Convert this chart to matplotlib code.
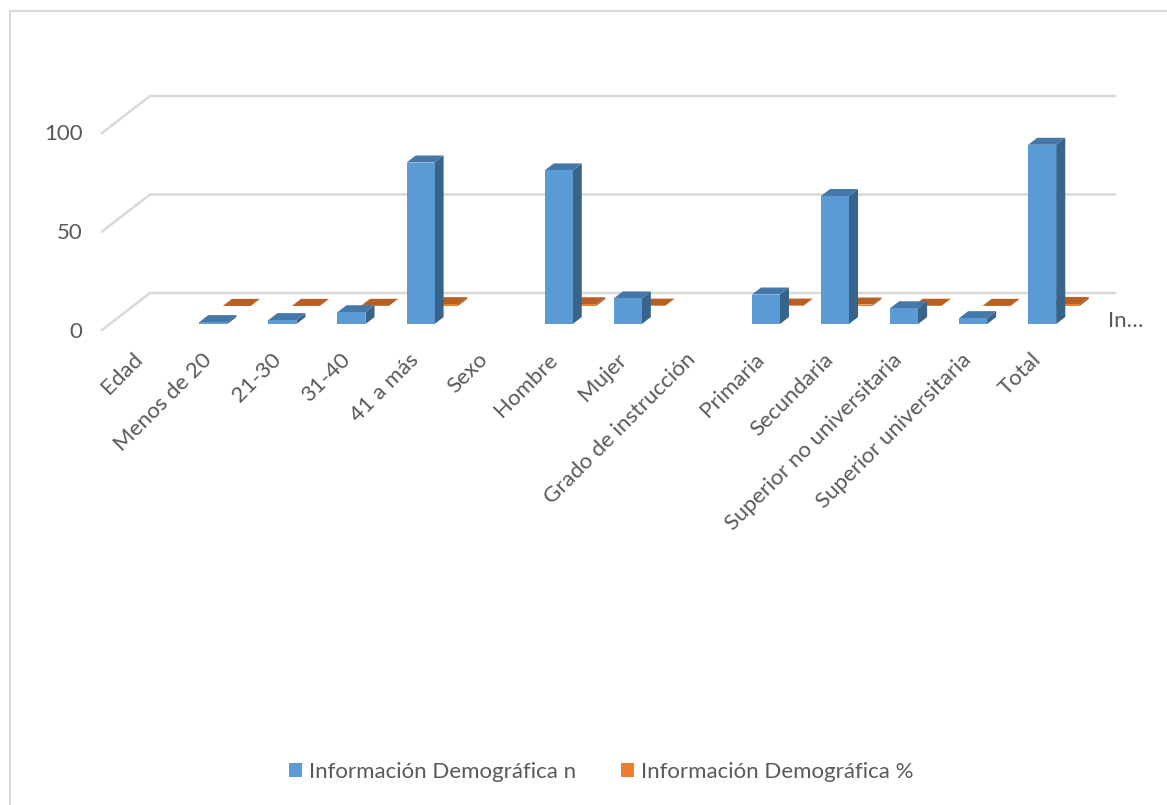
import matplotlib
matplotlib.use("Agg")
import matplotlib.pyplot as plt
from matplotlib.patches import Polygon, Rectangle
from matplotlib.transforms import ScaledTranslation

plt.rcParams['font.family'] = ['Lato', 'DejaVu Sans']

categories = ["Edad", "Menos de 20", "21-30", "31-40", "41 a más", "Sexo", "Hombre",
              "Mujer", "Grado de instrucción", "Primaria", "Secundaria",
              "Superior no universitaria", "Superior universitaria", "Total"]
counts = [None, 1, 2, 6, 82, None, 78, 13, None, 15, 65, 8, 3, 91]
shares = [None, 0.011, 0.022, 0.066, 0.901, None, 0.857, 0.143, None,
          0.165, 0.714, 0.088, 0.033, 1.0]
series_names = ["Información Demográfica n", "Información Demográfica %"]
y_ticks = [0, 50, 100]

W, H = 1167, 805
TEXT = "#595959"
GRID = "#D9D9D9"
FONT = 16

fig = plt.figure(figsize=(W / 100, H / 100), dpi=100, facecolor="white")

# Axes box is the front plane of the oblique 3-D frame
left, right, top, bottom = 102, 1069, 133, 330
ax = fig.add_axes([left / W, 1 - bottom / H, (right - left) / W, (bottom - top) / H])
ax.set_xlim(-0.5, len(categories) - 0.5)
ax.set_ylim(0, 100)
ax.patch.set_alpha(0)
for s in ax.spines.values():
    s.set_visible(False)

# Size of the full depth of the floor, in data units
px_x = (right - left) / len(categories)
px_y = (bottom - top) / 100
DX = 48 / px_x
DY = 37 / px_y
BAR_W = 28 / px_x


def shift(x, y, d):
    return x + d * DX, y + d * DY


# Gridlines run along the side wall and then the back wall
for v in y_ticks:
    x0, x1 = -0.5, len(categories) - 0.5 - 2 / px_x
    xb, yb = shift(x0, v, 1)
    xe, _ = shift(x1, v, 1)
    ax.plot([x0, xb, xe], [v, yb, yb], color=GRID, lw=1.8, clip_on=False,
            solid_joinstyle="miter", zorder=1)


def draw_series(values, d_front, d_back, front, roof, side, base_z):
    """Draw one row of oblique bars between two depths on the floor."""
    for i, v in enumerate(values):
        if v is None:
            continue
        xl = i - BAR_W / 2
        xr = i + BAR_W / 2
        fx, fy = shift(xl, 0, d_front)
        fxr, _ = shift(xr, 0, d_front)
        bx, by = shift(xl, 0, d_back)
        bxr, _ = shift(xr, 0, d_back)
        z = base_z + i * 0.01
        ax.bar(fx, v, width=fxr - fx, bottom=fy, align="edge", color=front,
               linewidth=0, clip_on=False, zorder=z + 0.002)
        ax.add_patch(Polygon([(fx, fy + v), (fxr, fy + v), (bxr, by + v), (bx, by + v)],
                             closed=True, facecolor=roof, linewidth=0,
                             clip_on=False, zorder=z + 0.001))
        ax.add_patch(Polygon([(fxr, fy), (bxr, by), (bxr, by + v), (fxr, fy + v)],
                             closed=True, facecolor=side, linewidth=0,
                             clip_on=False, zorder=z))


# The percentage row stands behind the count row
draw_series(shares, 0.65, 0.84, "#ED7D31", "#B86023", "#A85620", 2)
draw_series(counts, 0.16, 0.35, "#5B9BD5", "#4478A8", "#38648C", 3)

ax.set_yticks(y_ticks)
ax.set_yticklabels([str(v) for v in y_ticks], fontsize=FONT, color=TEXT)
ax.tick_params(axis="y", length=0, pad=14)
y_nudge = ScaledTranslation(0, -1.5 / 100, fig.dpi_scale_trans)
for lab in ax.get_yticklabels():
    lab.set_verticalalignment("center")
    lab.set_transform(lab.get_transform() + y_nudge)

ax.set_xticks(range(len(categories)))
ax.set_xticklabels(categories, rotation=45, ha="right", rotation_mode="anchor",
                   fontsize=FONT, color=TEXT)
ax.tick_params(axis="x", length=0, pad=14)
x_nudge = ScaledTranslation(-4 / 100, 0, fig.dpi_scale_trans)
for lab in ax.get_xticklabels():
    lab.set_transform(lab.get_transform() + x_nudge)

# Depth-axis label cut short by the chart area
ax.annotate("In…", xy=(1, 0), xycoords="axes fraction", xytext=(1108 - right, -1),
            textcoords="offset pixels", fontsize=FONT, color=TEXT, va="bottom", ha="left")

# Outer chart frame; its right and bottom sides fall beyond the canvas
fig.add_artist(Rectangle((9.5 / W, 1 - 860 / H), (1220 - 9.5) / W, (860 - 11) / H,
                         transform=fig.transFigure, fill=False, edgecolor=GRID, lw=1.5))

handles = [Rectangle((0, 0), 1, 1, facecolor="#5B9BD5"),
           Rectangle((0, 0), 1, 1, facecolor="#ED7D31")]
fig.legend(handles, series_names, ncol=2, loc="center",
           bbox_to_anchor=(601 / W, 1 - 772 / H), frameon=False, fontsize=FONT,
           labelcolor=TEXT, handlelength=0.6, handleheight=0.6, handletextpad=0.32,
           columnspacing=2.0, borderpad=0, borderaxespad=0)

fig.savefig("out.png", dpi=100)
